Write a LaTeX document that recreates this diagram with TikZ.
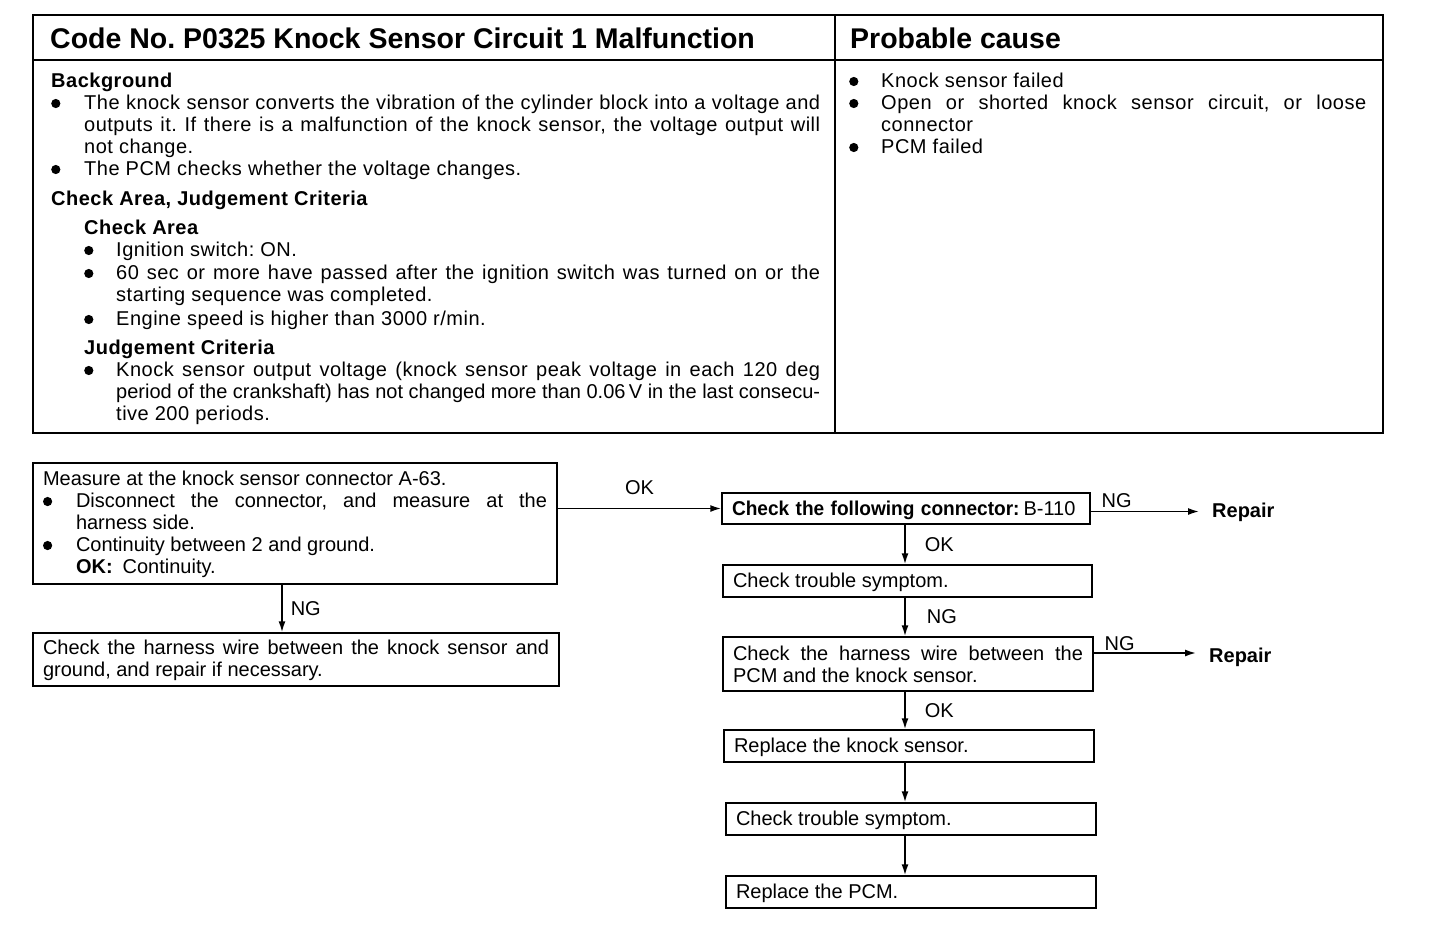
\documentclass[tikz,border=0pt]{standalone}
\usepackage{fontspec}
\usepackage{graphicx}
\setmainfont{Liberation Sans}
\newfontfamily\topfont[LetterSpace=2.5]{Liberation Sans}
\usetikzlibrary{arrows.meta,calc}
\newcommand{\bul}{\tikz[baseline=0pt,x=1pt,y=1pt]\fill[black] (6,5.6) circle[radius=4.6];}
\newcommand{\bitem}[2]{\hangindent=#1\relax\hangafter=1\noindent\strut\makebox[#1][l]{\bul}#2\par}
\newcommand{\onestrut}{\rule[-4pt]{0pt}{22pt}}
\newcommand{\setupjust}{\frenchspacing\tolerance=10000\hyphenpenalty=10000\exhyphenpenalty=10000\parskip=0pt\parindent=0pt}
\tikzset{
  tbl/.style={line width=1.8pt},
  txt/.style={inner sep=0pt, align=justify, font=\topfont\fontsize{20}{22}\selectfont, execute at begin node=\setupjust},
  hdr/.style={inner sep=0pt, font=\fontsize{28.5}{30}\selectfont\bfseries},
  box/.style={draw, line width=1.5pt, inner xsep=10pt, inner ysep=0pt, align=justify,
    font=\fontsize{20}{22}\selectfont, execute at begin node=\setupjust},
  arr/.style={line width=1.6pt, -{Latex[length=11pt,width=7pt]}},
  lbl/.style={inner sep=0pt, font=\fontsize{20}{22}\selectfont},
  lblb/.style={inner sep=0pt, font=\fontsize{20}{22}\selectfont\bfseries},
}
\begin{document}
\begin{tikzpicture}[x=1pt,y=-1pt]
\useasboundingbox[fill=white] (0,0) rectangle (1440,948);
% table
\draw[tbl] (33,15) rectangle (1383,433);
\draw[tbl] (33,60) -- (1383,60);
\draw[tbl] (835,15) -- (835,433);
\node[hdr, anchor=base west] (h1) at (50,48) {Code No.\ P0325 Knock Sensor Circuit 1 Malfunction};
\node[hdr, anchor=base west] (h2) at (850,48) {Probable cause};
\node[txt, anchor=north west, text width=769pt] (bg) at (51,71.5) {%
\strut\textbf{Background}\par
\bitem{33pt}{The knock sensor converts the vibration of the cylinder block into a voltage and\linebreak outputs it. If there is a malfunction of the knock sensor, the voltage output will\linebreak not change.}
\bitem{33pt}{The PCM checks whether the voltage changes.}
\vspace{8pt}
\strut\textbf{Check Area, Judgement Criteria}\par
\vspace{7pt}
\leftskip=33pt
\strut\textbf{Check Area}\par
\bitem{32pt}{Ignition switch: ON.}
\vspace{1pt}
\bitem{32pt}{60 sec or more have passed after the ignition switch was turned on or the\linebreak starting sequence was completed.}
\vspace{2pt}
\bitem{32pt}{Engine speed is higher than 3000 r/min.}
\vspace{7pt}
\strut\textbf{Judgement Criteria}\par
\bitem{32pt}{Knock sensor output voltage (knock sensor peak voltage in each 120 deg\linebreak {\rmfamily period of the crankshaft) has not changed more than 0.06\,V in the last consecu-}\linebreak tive 200 periods.}
};
\node[txt, anchor=north west, text width=517pt] (pc) at (849,71.5) {%
\bitem{32pt}{Knock sensor failed}
\bitem{32pt}{Open or shorted knock sensor circuit, or loose\linebreak connector}
\bitem{32pt}{PCM failed}
};
% flowchart
\node[box, text width=504pt, minimum height=121pt] (A) at (295,523.5) {%
\strut Measure at the knock sensor connector A-63.\par
\bitem{33pt}{Disconnect the connector, and measure at the\linebreak harness side.}
\bitem{33pt}{Continuity between 2 and ground.\\\textbf{OK:}\hspace{10pt}Continuity.}
};
\node[box, text width=506pt, minimum height=53pt] (B) at (296,659.5) {%
\strut Check the harness wire between the knock sensor and\linebreak ground, and repair if necessary.};
\node[box, text width=348pt, minimum height=31pt, align=left] (C) at (906,508.5) {%
\onestrut\scalebox{0.955}[1]{\textbf{Check the following connector:}}\hspace{4pt}B-110};
\node[box, text width=349pt, minimum height=32pt] (D) at (907.5,581) {\onestrut Check trouble symptom.};
\node[box, text width=350pt, minimum height=54pt] (E) at (908,664) {%
\strut Check the harness wire between the\linebreak PCM and the knock sensor.};
\node[box, text width=350pt, minimum height=32pt] (F) at (909,746) {\onestrut Replace the knock sensor.};
\node[box, text width=350pt, minimum height=32pt] (G) at (911,819) {\onestrut Check trouble symptom.};
\node[box, text width=350pt, minimum height=32pt] (H) at (911,892) {\onestrut Replace the PCM.};
\node[lblb, anchor=base west] (R1) at (1212,517) {Repair};
\node[lblb, anchor=base west] (R2) at (1209,662) {Repair};
% connectors
\draw[arr] ([xshift=-13pt]A.south) -- ([xshift=-13pt]A.south |- B.north)
  node[lbl, midway, anchor=west, xshift=8pt] (l1) {NG};
\draw[arr] (A.east |- C.west) -- (C.west)
  node[lbl, midway, anchor=south, yshift=13pt] (l2) {OK};
\draw[arr] ([yshift=-3pt]C.east) -- ([xshift=-13pt,yshift=-3pt]R1.west |- C.east)
  node[lbl, pos=0, anchor=south west, xshift=10pt, yshift=3pt] (l3) {NG};
\draw[arr] ([yshift=11pt]E.east) -- ([xshift=-13pt,yshift=11pt]R2.west |- E.east)
  node[lbl, pos=0, anchor=south west, xshift=10pt, yshift=2pt] (l4) {NG};
\draw[arr] ([xshift=-1pt]C.south) -- ([xshift=-1pt]C.south |- D.north)
  node[lbl, midway, anchor=west, xshift=19pt] (l5) {OK};
\draw[arr] ([xshift=-2.5pt]D.south) -- ([xshift=-2.5pt]D.south |- E.north)
  node[lbl, midway, anchor=west, xshift=21pt] (l6) {NG};
\draw[arr] ([xshift=-3pt]E.south) -- ([xshift=-3pt]E.south |- F.north)
  node[lbl, midway, anchor=west, xshift=19pt] (l7) {OK};
\draw[arr] ([xshift=-4pt]F.south) -- ([xshift=-4pt]F.south |- G.north);
\draw[arr] ([xshift=-6pt]G.south) -- ([xshift=-6pt]G.south |- H.north);
\end{tikzpicture}
\end{document}
